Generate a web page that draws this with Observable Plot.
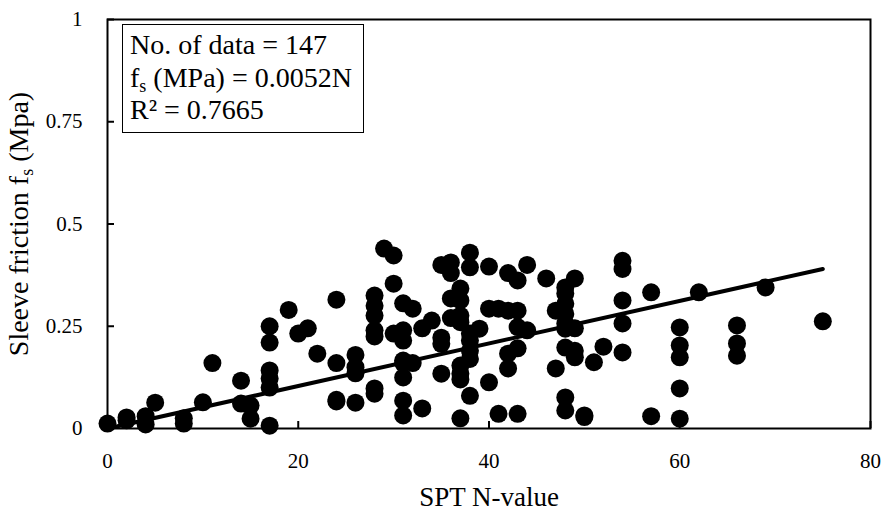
<!DOCTYPE html>
<html>
<head>
<meta charset="utf-8">
<script src="https://cdn.jsdelivr.net/npm/d3@7"></script>
<script src="https://cdn.jsdelivr.net/npm/@observablehq/plot@0.6"></script>
<style>
  html, body { margin: 0; padding: 0; background: #fff; }
  #wrap { position: relative; width: 888px; height: 512px; font-family: "Liberation Serif", "Times New Roman", Times, Tinos, "DejaVu Serif", serif; color: #000; }
  #legend { position: absolute; left: 122px; top: 24px; width: 242px; height: 109px; border: 1.5px solid #000; background: #fff; font-size: 28px; line-height: 32.5px; padding: 4px 0 0 7px; box-sizing: border-box; white-space: nowrap; }
  #legend sub { font-size: 18px; vertical-align: -5px; line-height: 0; }
</style>
</head>
<body>
<div id="wrap">
  <div id="chart"></div>
  <div id="legend">
    <div>No. of data = 147</div>
    <div>f<sub>s</sub> (MPa) = 0.0052N</div>
    <div>R² = 0.7665</div>
  </div>
</div>
<script>
// SPT N-values and sleeve friction (MPa)
const nValues = [
  0, 2, 2, 4, 4, 5, 8, 8, 10, 11, 14, 14, 15, 15,
  17, 17, 17, 17, 17, 17, 19, 20, 21, 22,
  24, 24, 24, 24, 26, 26, 26, 26,
  28, 28, 28, 28, 28, 28, 28, 29, 30, 30, 30,
  31, 31, 31, 31, 31, 31, 31, 31, 32, 32, 33, 33, 34,
  35, 35, 35, 35, 36, 36, 36, 36,
  37, 37, 37, 37, 37, 37, 37, 37,
  38, 38, 38, 38, 38, 38, 38, 39, 40, 40, 40, 41, 41,
  42, 42, 42, 42, 43, 43, 43, 43, 43, 44, 44, 46, 47, 47,
  48, 48, 48, 48, 48, 48, 48, 48, 48,
  49, 49, 49, 49, 50, 50, 51, 52,
  54, 54, 54, 54, 54, 57, 57,
  60, 60, 60, 60, 60, 62, 66, 66, 66, 69, 75
];
const fsValues = [
  0.012, 0.027, 0.020, 0.030, 0.010, 0.063, 0.025, 0.012, 0.064, 0.160, 0.117, 0.061, 0.056, 0.024,
  0.250, 0.210, 0.142, 0.122, 0.100, 0.007, 0.290, 0.232, 0.245, 0.183,
  0.315, 0.160, 0.066, 0.070, 0.180, 0.150, 0.135, 0.063,
  0.325, 0.300, 0.276, 0.240, 0.225, 0.098, 0.085, 0.440, 0.423, 0.354, 0.232,
  0.306, 0.240, 0.215, 0.166, 0.160, 0.125, 0.068, 0.032, 0.293, 0.160, 0.245, 0.049, 0.264,
  0.400, 0.222, 0.207, 0.134, 0.406, 0.380, 0.318, 0.270,
  0.342, 0.313, 0.276, 0.260, 0.154, 0.134, 0.120, 0.025,
  0.430, 0.394, 0.232, 0.215, 0.190, 0.170, 0.080, 0.244, 0.396, 0.293, 0.113, 0.293, 0.036,
  0.380, 0.288, 0.183, 0.147, 0.362, 0.288, 0.248, 0.196, 0.036, 0.400, 0.240, 0.367, 0.288, 0.147,
  0.345, 0.330, 0.305, 0.280, 0.257, 0.244, 0.198, 0.076, 0.044,
  0.367, 0.245, 0.190, 0.174, 0.032, 0.028, 0.162, 0.200,
  0.410, 0.390, 0.313, 0.257, 0.186, 0.333, 0.030,
  0.247, 0.203, 0.174, 0.098, 0.024, 0.333, 0.252, 0.208, 0.178, 0.345, 0.262
];
const slope = 0.0052;          // fs = 0.0052 N
const fitRange = [0, 75];
const xTicks = [0, 20, 40, 60, 80];
const yTicks = [0, 0.25, 0.5, 0.75, 1];

const points = nValues.map((n, i) => ({N: n, fs: fsValues[i]}));
const fit = fitRange.map(n => ({N: n, fs: slope * n}));

const FONT = '"Liberation Serif", "Times New Roman", Times, Tinos, "DejaVu Serif", serif';

const chart = Plot.plot({
  width: 888,
  height: 512,
  marginLeft: 107,
  marginRight: 18,
  marginTop: 19,
  marginBottom: 84,
  style: {fontFamily: FONT, fontSize: "21px", color: "#000", background: "#fff"},
  x: {domain: [0, 80]},
  y: {domain: [0, 1]},
  marks: [
    Plot.dot(points, {x: "N", y: "fs", r: 9, fill: "#000", stroke: "none"}),
    Plot.line(fit, {x: "N", y: "fs", stroke: "#000", strokeWidth: 4}),
    Plot.frame({stroke: "#000", strokeWidth: 2}),
    Plot.axisX({ticks: xTicks, tickSize: -7, tickPadding: 32, tickFormat: d => String(d), strokeWidth: 2,
      label: null, fontSize: 21}),
    Plot.axisX({ticks: [], tickSize: 0, label: "SPT N-value", labelAnchor: "center", labelOffset: 77, labelArrow: "none", fontSize: 27}),
    Plot.axisY({ticks: yTicks, tickSize: -7, tickPadding: 32, tickFormat: d => String(d), strokeWidth: 2,
      label: null, fontSize: 21}),
    Plot.axisY({ticks: [], tickSize: 0, label: "Sleeve friction fs (Mpa)", labelAnchor: "center", labelOffset: 99, labelArrow: "none", fontSize: 28})
  ]
});
document.getElementById("chart").appendChild(chart);

// subscript in y-axis label
const ylab = chart.querySelector('g[aria-label="y-axis label"] text');
if (ylab) {
  const ns = "http://www.w3.org/2000/svg";
  ylab.textContent = "";
  const parts = [["Sleeve friction f", null], ["s", "sub"], [" (Mpa)", null]];
  for (const [t, k] of parts) {
    const ts = document.createElementNS(ns, "tspan");
    ts.textContent = t;
    if (k === "sub") { ts.setAttribute("font-size", "18"); ts.setAttribute("dy", "5"); }
    else if (t.startsWith(" ")) { ts.setAttribute("dy", "-5"); }
    ylab.appendChild(ts);
  }
}
</script>
</body>
</html>
